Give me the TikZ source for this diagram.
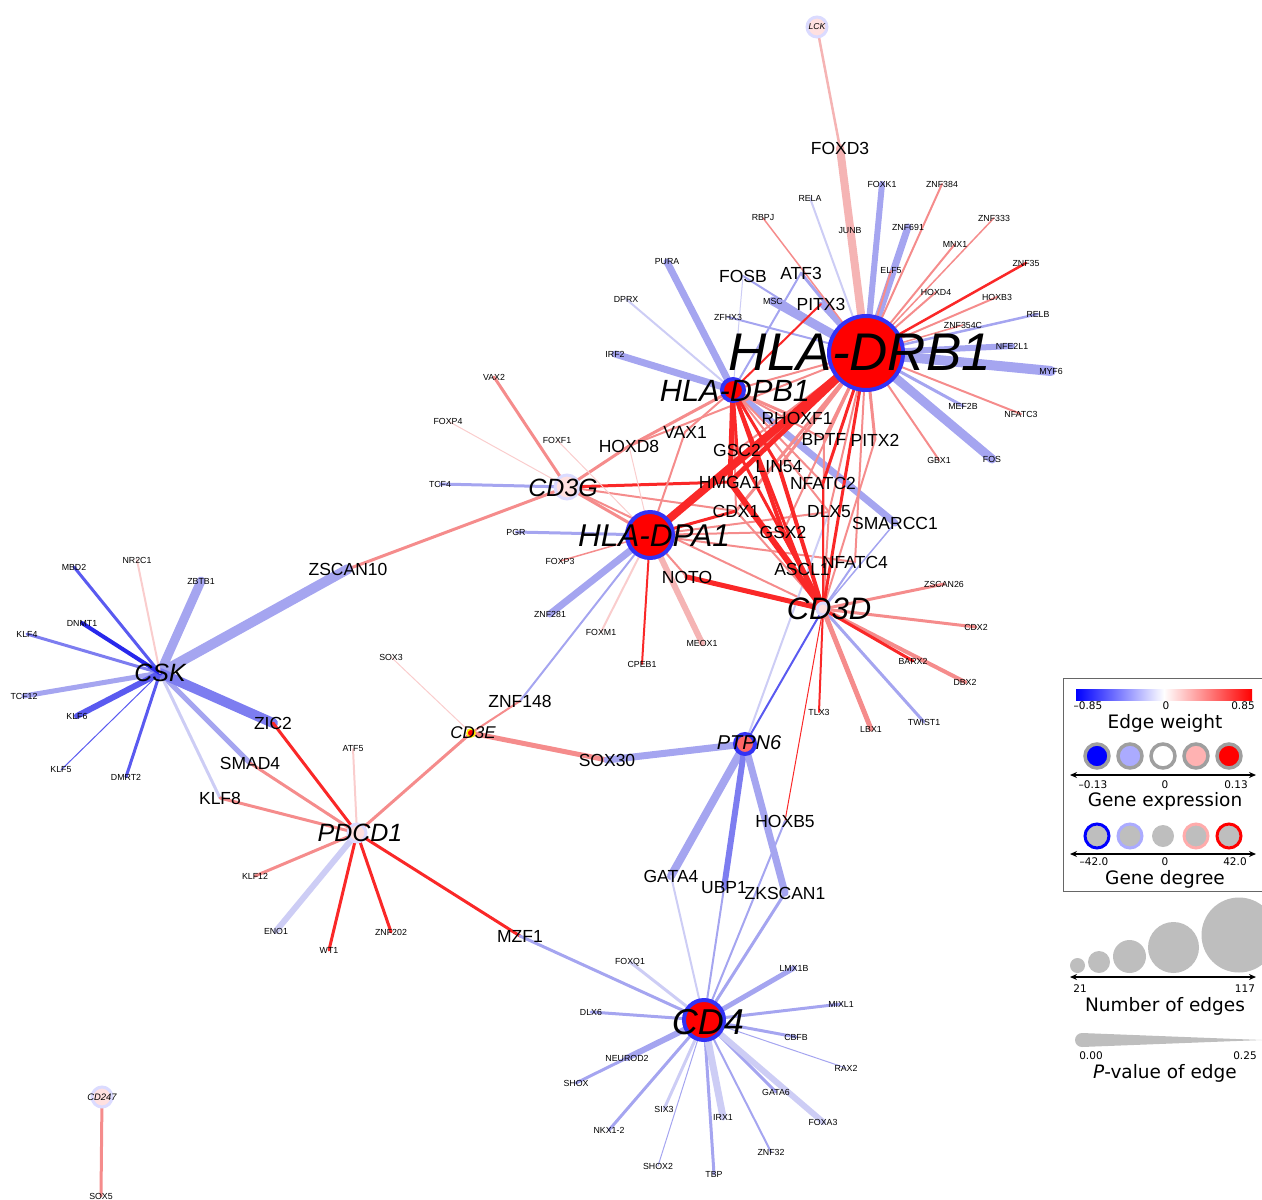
\documentclass[tikz,border=0pt]{standalone}
\usepackage{fontspec}
\setmainfont{Liberation Sans}
\newfontfamily\legfont{DejaVu Sans}
\usetikzlibrary{arrows.meta, backgrounds}
\definecolor{edred}{RGB}{250,40,40}
\definecolor{edpink}{RGB}{245,140,140}
\definecolor{edpinkl}{RGB}{245,180,180}
\definecolor{edpale}{RGB}{250,205,205}
\definecolor{edlav}{RGB}{165,165,240}
\definecolor{edmid}{RGB}{125,125,240}
\definecolor{edblue}{RGB}{90,90,240}
\definecolor{eddeep}{RGB}{40,40,235}
\definecolor{edpalelav}{RGB}{205,205,245}
\definecolor{hubblue}{RGB}{50,50,245}
\definecolor{legray}{RGB}{190,190,190}
\newcommand{\gsize}[1]{\fontsize{#1}{#1}\selectfont}
\tikzset{
  leaf/.style={font=\gsize{8.8}, inner sep=0pt},
  midgene/.style={font=\gsize{17.5}, inner sep=0pt},
  hubtext/.style={font=\itshape\gsize{#1}, inner sep=0pt},
  hub/.style={circle, fill=red, draw=hubblue, line width=4pt, inner sep=0pt},
  palehub/.style={circle, fill=red!12, draw=blue!14, line width=3pt, inner sep=0pt},
  edge/.style={line cap=round},
  legtext/.style={font=\legfont\gsize{10.5}, inner sep=0pt},
  legtitle/.style={font=\legfont\gsize{18.5}, inner sep=0pt},
  exprcirc/.style={circle, draw=gray!75, line width=3.5pt, inner sep=0pt, minimum size=24pt},
  degcirc/.style={circle, fill=legray, line width=3pt, inner sep=0pt, minimum size=24pt},
  sizecirc/.style={circle, fill=legray, inner sep=0pt},
  scalearrow/.style={line width=1.3pt, {Stealth[length=7pt,width=6pt]}-{Stealth[length=7pt,width=6pt]}}
}
\begin{document}
\begin{tikzpicture}[x=1pt, y=-1pt]
\useasboundingbox (0,0) rectangle (1262,1200);

% hubs
\node[hub, minimum size=74pt] (drb1) at (866,353) {};
\node[hub, minimum size=22pt] (dpb1) at (733,390) {};
\node[hub, minimum size=46pt] (dpa1) at (650,535) {};
\node[palehub, minimum size=24pt] (cd3g) at (567,487) {};
\node[palehub, minimum size=12pt] (cd3d) at (823,609) {};
\node[palehub, minimum size=18pt] (pdcd1) at (357,833) {};
\node[circle, fill=red, draw=yellow, line width=1.5pt, minimum size=8pt, inner sep=0pt] (cd3e) at (471,733) {};
\node[hub, fill=red!60, minimum size=20pt] (ptpn6) at (745,744) {};
\node[hub, minimum size=40pt] (cd4) at (704,1020) {};
\node[palehub, minimum size=20pt] (lck) at (817,27) {};
\node[palehub, minimum size=20pt] (cd247) at (102,1097) {};

\node[hubtext=53] (drb1-l) at (860,352) {HLA-DRB1};
\node[hubtext=30.7] (dpb1-l) at (735,391) {HLA-DPB1};
\node[hubtext=31.5] (dpa1-l) at (654,536) {HLA-DPA1};
\node[hubtext=25] (cd3g-l) at (563,488) {CD3G};
\node[hubtext=31] (cd3d-l) at (829,609) {CD3D};
\node[hubtext=25] (csk) at (160,673) {CSK};
\node[hubtext=25] (pdcd1-l) at (360,833) {PDCD1};
\node[hubtext=17] (cd3e-l) at (473,733) {CD3E};
\node[hubtext=20] (ptpn6-l) at (749,743) {PTPN6};
\node[hubtext=36] (cd4-l) at (708,1022) {CD4};
\node[hubtext=8.6] (lck-l) at (817,27) {LCK};
\node[hubtext=9.4] (cd247-l) at (102,1097) {CD247};

% genes linking several hubs
\foreach \g/\x/\y in {FOXD3/840/148, FOSB/743/276, ATF3/801/273, PITX3/821/304,
  RHOXF1/797/418, VAX1/685/432, HOXD8/629/446, BPTF/824/439, PITX2/875/440,
  GSC2/737/450, LIN54/779/467, HMGA1/730/482, NFATC2/823/483, CDX1/736/511,
  DLX5/829/512, SMARCC1/895/523, GSX2/783/532, ASCL1/802/569, NFATC4/855/562,
  NOTO/687/577, ZSCAN10/348/569, ZNF148/520/701, ZIC2/273/723, SMAD4/250/763,
  KLF8/220/798, SOX30/607/760, HOXB5/785/821, GATA4/671/876, UBP1/724/888,
  ZKSCAN1/785/893, MZF1/520/936}
  \node[midgene] (\g) at (\x,\y) {\g};

% single-hub genes
\foreach \g/\x/\y in {FOXK1/882/184, ZNF384/942/184, RELA/810/198, RBPJ/763/218,
  JUNB/850/231, ZNF691/908/227, ZNF333/994/218, MNX1/955/244, ZNF35/1026/263,
  ELF5/891/271, PURA/667/262, DPRX/626/299, MSC/773/301, HOXD4/936/292,
  HOXB3/997/297, ZFHX3/728/317, RELB/1038/314, ZNF354C/963/325, NFE2L1/1012/346,
  IRF2/615/354, MYF6/1051/371, MEF2B/963/406, NFATC3/1021/414, GBX1/939/460,
  FOS/992/459, VAX2/494/377, FOXP4/448/421, FOXF1/557/440, TCF4/440/484,
  PGR/516/532, FOXP3/560/561, ZNF281/550/614, FOXM1/601/632, CPEB1/642/664,
  MEOX1/702/643, ZSCAN26/944/584, CDX2/976/627, BARX2/913/661, DBX2/965/682,
  TLX3/819/712, LBX1/871/729, TWIST1/924/722, MBD2/74/567, NR2C1/137/560,
  ZBTB1/201/581, DNMT1/82/623, KLF4/27/634, TCF12/24/696, KLF6/77/716,
  KLF5/61/770, DMRT2/126/777, SOX3/391/657, ATF5/353/749, KLF12/255/876,
  ENO1/276/931, WT1/329/950, ZNF202/391/932, FOXQ1/630/962, LMX1B/794/968,
  MIXL1/841/1004, DLX6/591/1012, CBFB/796/1037, NEUROD2/627/1058, RAX2/846/1068,
  SHOX/576/1083, GATA6/776/1092, SIX3/664/1109, IRX1/723/1117, FOXA3/823/1122,
  NKX1-2/609/1130, ZNF32/771/1152, SHOX2/658/1166, TBP/714/1174, SOX5/101/1196}
  \node[leaf] (\g) at (\x,\y) {\g};

% edges
\begin{scope}[on background layer]
\foreach \a/\b/\c/\w in {
  % HLA-DRB1
  drb1/FOXK1/edlav/6, drb1/RELA/edpalelav/2, drb1/JUNB/edlav/3, drb1/ZNF691/edlav/7,
  drb1/RELB/edlav/2.5, drb1/NFE2L1/edlav/6, drb1/MYF6/edlav/10, drb1/MEF2B/edlav/3,
  drb1/FOS/edlav/9, drb1/MSC/edlav/9, drb1/ZFHX3/edlav/2, drb1/FOSB/edlav/2,
  drb1/ATF3/edlav/3, drb1/PITX3/edlav/5,
  drb1/ZNF384/edpink/2, drb1/RBPJ/edpink/1.5, drb1/ELF5/edpink/2, drb1/ZNF333/edpink/1.5,
  drb1/MNX1/edpink/2, drb1/HOXD4/edpink/2, drb1/HOXB3/edpink/2, drb1/ZNF354C/edpink/1.5,
  drb1/NFATC3/edpink/2, drb1/GBX1/edpink/2, drb1/ZNF35/edred/2.5,
  lck/FOXD3/edpinkl/2.5, FOXD3/drb1/edpinkl/8,
  % HLA-DPB1
  dpb1/PURA/edlav/7, dpb1/DPRX/edpalelav/2, dpb1/IRF2/edlav/7, dpb1/FOSB/edpalelav/1,
  dpb1/ATF3/edlav/2, dpb1/SMARCC1/edlav/7,
  % CD3G, HLA-DPA1
  cd3g/TCF4/edlav/3, dpa1/PGR/edlav/3, dpa1/ZNF281/edlav/7, dpa1/ZNF148/edlav/2,
  cd3g/VAX2/edpink/3, cd3g/FOXP4/edpale/1, cd3g/ZSCAN10/edpink/3, cd3g/HOXD8/edpink/3,
  cd3g/cd3d/edpink/2, cd3g/CDX1/edpink/2, cd3g/dpa1/edpink/3, cd3g/HMGA1/edred/3,
  dpa1/FOXP3/edpink/1.5, dpa1/FOXM1/edpale/2, dpa1/CPEB1/edred/2, dpa1/MEOX1/edpinkl/6,
  dpa1/FOXF1/edpale/1, dpa1/HOXD8/edpale/1, dpa1/VAX1/edpink/2, dpa1/NOTO/edpink/2,
  dpa1/GSX2/edpink/2, dpa1/NFATC4/edpink/2, dpa1/RHOXF1/edpink/2, dpa1/DLX5/edpink/2,
  dpa1/CDX1/edred/3,
  % CD3D
  cd3d/TWIST1/edlav/3, cd3d/SMARCC1/edlav/1.5, cd3d/NFATC4/edlav/2, cd3d/ptpn6/edblue/2,
  ptpn6/DLX5/edpalelav/2,
  cd3d/ZSCAN26/edpink/3, cd3d/CDX2/edpink/3, cd3d/DBX2/edpink/4, cd3d/LBX1/edpink/5,
  cd3d/DLX5/edpink/2, cd3d/BPTF/edpink/2, cd3d/PITX2/edpink/2, cd3d/CDX1/edpink/2,
  cd3d/BARX2/edred/3, cd3d/TLX3/edred/2, cd3d/HOXB5/edred/1, cd3d/NOTO/edred/5,
  % central hub links
  drb1/dpb1/edpink/2, drb1/CDX1/edpink/3, drb1/BPTF/edpink/3, drb1/PITX2/edpink/3,
  drb1/DLX5/edpink/2, drb1/NFATC4/edpink/2, drb1/LIN54/edpink/3, drb1/GSC2/edpink/2,
  drb1/GSX2/edpink/2, drb1/HOXD8/edpink/2,
  dpb1/RHOXF1/edpink/3, dpb1/VAX1/edpink/2, dpb1/HOXD8/edpink/3, dpb1/NFATC2/edpink/2,
  dpb1/BPTF/edpink/2, dpb1/CDX1/edpink/2, dpb1/DLX5/edpink/2,
  drb1/dpa1/edred/8, drb1/cd3d/edred/3, drb1/HMGA1/edred/5, drb1/RHOXF1/edred/3,
  drb1/NFATC2/edred/3, dpb1/PITX3/edred/2, dpb1/HMGA1/edred/5, dpb1/GSC2/edred/3,
  dpb1/LIN54/edred/3, dpb1/GSX2/edred/4, dpb1/ASCL1/edred/3,
  cd3d/HMGA1/edred/6, cd3d/GSX2/edred/5, cd3d/LIN54/edred/4, cd3d/ASCL1/edred/4,
  cd3d/GSC2/edred/3, cd3d/NFATC2/edred/2,
  % CSK
  csk/ZBTB1/edlav/9, csk/TCF12/edlav/5, csk/ZSCAN10/edlav/10, csk/SMAD4/edlav/5,
  csk/KLF8/edpalelav/3, csk/ZIC2/edmid/10, csk/MBD2/edblue/3, csk/KLF4/edmid/3,
  csk/KLF6/edblue/6, csk/KLF5/edblue/1, csk/DMRT2/edblue/3, csk/DNMT1/eddeep/4,
  csk/NR2C1/edpale/2,
  % PDCD1, CD3E
  pdcd1/ENO1/edpalelav/6, pdcd1/ATF5/edpale/2, cd3e/SOX3/edpale/1,
  pdcd1/SMAD4/edpink/3, pdcd1/KLF8/edpink/3, pdcd1/cd3e/edpink/3, pdcd1/KLF12/edpink/3,
  cd3e/ZNF148/edpink/2, cd3e/SOX30/edpink/5,
  pdcd1/ZIC2/edred/3, pdcd1/WT1/edred/3, pdcd1/ZNF202/edred/3, pdcd1/MZF1/edred/3,
  % PTPN6, CD4
  ptpn6/SOX30/edlav/7, ptpn6/GATA4/edlav/8, ptpn6/UBP1/edmid/6, ptpn6/ZKSCAN1/edlav/7,
  cd4/GATA4/edpalelav/2, cd4/UBP1/edlav/2, cd4/ZKSCAN1/edlav/3, cd4/HOXB5/edlav/2,
  cd4/MZF1/edlav/3, cd4/FOXQ1/edpalelav/3, cd4/DLX6/edlav/3, cd4/NEUROD2/edlav/6,
  cd4/SHOX/edlav/3, cd4/NKX1-2/edlav/3, cd4/SIX3/edpalelav/3, cd4/SHOX2/edlav/1,
  cd4/TBP/edlav/3, cd4/IRX1/edpalelav/7, cd4/ZNF32/edlav/2, cd4/GATA6/edlav/3,
  cd4/FOXA3/edpalelav/6, cd4/RAX2/edlav/1, cd4/CBFB/edlav/3, cd4/MIXL1/edlav/3,
  cd4/LMX1B/edlav/5,
  cd247/SOX5/edpink/3}
  \draw[edge, draw=\c, line width=\w pt] (\a.center) -- (\b.center);
\end{scope}

% legend
\draw[line width=1pt, gray!80!black] (1262,678) -- (1063,678) -- (1063,891) -- (1262,891);
\shade[left color=blue, right color=red, middle color=white] (1076,689) rectangle (1252,700);
\node[legtext] (ew-lo) at (1088,706) {–0.85};
\node[legtext] (ew-mid) at (1166,706) {0};
\node[legtext] (ew-hi) at (1243,706) {0.85};
\node[legtitle] (ew-t) at (1165,723) {Edge weight};

\foreach \i/\x/\f in {1/1097/blue, 2/1130/blue!33, 3/1163/white, 4/1196/red!30, 5/1229/red}
  \node[exprcirc, fill=\f] (ex\i) at (\x,756) {};
\coordinate (ex-l) at (1070,775);
\coordinate (ex-r) at (1256,775);
\draw[scalearrow] (ex-l) -- (ex-r);
\node[legtext] (ex-lo) at (1093,785) {–0.13};
\node[legtext] (ex-mid) at (1165,785) {0};
\node[legtext] (ex-hi) at (1236,785) {0.13};
\node[legtitle] (ex-t) at (1165,801) {Gene expression};

\foreach \i/\x/\d in {1/1097/blue, 2/1130/blue!33, 4/1196/red!33, 5/1229/red}
  \node[degcirc, draw=\d] (dg\i) at (\x,836) {};
\node[sizecirc, minimum size=22pt] (dg3) at (1163,836) {};
\coordinate (dg-l) at (1070,854);
\coordinate (dg-r) at (1256,854);
\draw[scalearrow] (dg-l) -- (dg-r);
\node[legtext] (dg-lo) at (1094,862) {–42.0};
\node[legtext] (dg-mid) at (1165,862) {0};
\node[legtext] (dg-hi) at (1235,862) {42.0};
\node[legtitle] (dg-t) at (1165,879) {Gene degree};

\foreach \i/\x/\y/\r in {1/1077.5/965.5/15, 2/1099/962/22, 3/1129.5/956.5/33, 4/1173.5/947.5/51, 5/1239/935/75}
  \node[sizecirc, minimum size=\r pt] (ne\i) at (\x,\y) {};
\coordinate (ne-l) at (1070,977);
\coordinate (ne-r) at (1256,977);
\draw[scalearrow] (ne-l) -- (ne-r);
\node[legtext] (ne-lo) at (1080,989) {21};
\node[legtext] (ne-hi) at (1245,989) {117};
\node[legtitle] (ne-t) at (1165,1006) {Number of edges};

\fill[legray] (1262,1040) -- (1082,1033) arc (270:90:7) -- cycle;
\node[legtext] (pv-lo) at (1091,1056) {0.00};
\node[legtext] (pv-hi) at (1245,1056) {0.25};
\node[legtitle] (pv-t) at (1165,1073) {{\itshape P}-value of edge};
\end{tikzpicture}
\end{document}
